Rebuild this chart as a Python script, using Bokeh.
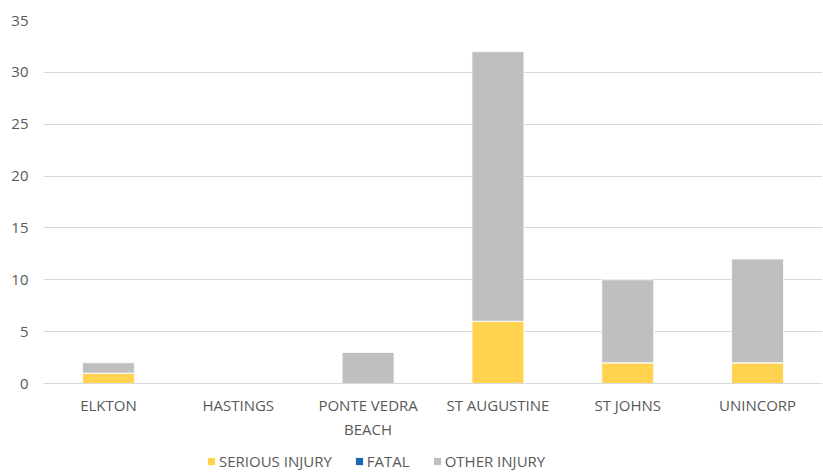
from bokeh.plotting import figure
from bokeh.models import Legend, LegendItem, Label, FixedTicker, Range1d, FactorRange
from bokeh.embed import file_html
from bokeh.resources import INLINE

cities = ["ELKTON", "HASTINGS", "PONTE VEDRA\nBEACH", "ST AUGUSTINE", "ST JOHNS", "UNINCORP"]
serious_injury = [1, 0, 0, 6, 2, 2]
fatal = [0, 0, 0, 0, 0, 0]
other_injury = [1, 0, 3, 26, 8, 10]
series = ["SERIOUS INJURY", "FATAL", "OTHER INJURY"]
colors = ["#FFD24F", "#1B68B3", "#BFBFBF"]
y_ticks = [0, 5, 10, 15, 20, 25, 30, 35]
title_text = "CITY"

FONT = "Open Sans"
TXT = "#595959"

data = {"city": cities, "SERIOUS INJURY": serious_injury, "FATAL": fatal, "OTHER INJURY": other_injury}

p = figure(x_range=FactorRange(*cities), y_range=Range1d(-8.58, 35),
           width=823, height=472, output_backend="svg", toolbar_location=None,
           min_border_left=43, min_border_right=1, min_border_top=20, min_border_bottom=0)
p.outline_line_color = None
p.background_fill_color = "white"
p.border_fill_color = "white"

renderers = p.vbar_stack(series, x="city", width=0.4, source=data, color=colors,
                         line_color="white", line_width=0.8)

p.xgrid.grid_line_color = None
p.ygrid.grid_line_color = "#D9D9D9"
p.ygrid.grid_line_width = 1
p.ygrid.ticker = FixedTicker(ticks=y_ticks)

p.yaxis.ticker = FixedTicker(ticks=y_ticks)
p.yaxis.axis_line_color = None
p.yaxis.major_tick_line_color = None
p.yaxis.minor_tick_line_color = None
p.yaxis.major_tick_out = 0
p.yaxis.major_tick_in = 0
p.yaxis.major_label_standoff = 15
p.yaxis.major_label_text_font = FONT
p.yaxis.major_label_text_font_size = "15px"
p.yaxis.major_label_text_color = TXT

p.xaxis.fixed_location = 0
p.xaxis.axis_line_color = "#D9D9D9"
p.xaxis.axis_line_width = 1
p.xaxis.major_tick_line_color = None
p.xaxis.minor_tick_line_color = None
p.xaxis.major_tick_out = 0
p.xaxis.major_tick_in = 0
p.xaxis.major_label_standoff = 11
p.xaxis.major_label_text_font = FONT
p.xaxis.major_label_text_font_size = "15px"
p.xaxis.major_label_text_color = TXT

legend = Legend(items=[LegendItem(label=s, renderers=[r]) for s, r in zip(series, renderers)],
                orientation="horizontal", location=(163, 1),
                glyph_width=10, glyph_height=10, label_height=10,
                label_standoff=3, spacing=22, padding=0, margin=0,
                border_line_color=None, background_fill_alpha=0,
                label_text_font=FONT, label_text_font_size="15px",
                label_text_color=TXT)
p.add_layout(legend, "center")

title = Label(x=2.835, y=36.45, text=title_text, text_align="center",
              text_baseline="alphabetic", text_font=FONT, text_font_size="18px",
              text_font_style="bold", text_color="black")
p.add_layout(title)

open("out.html", "w").write(file_html(p, INLINE))
